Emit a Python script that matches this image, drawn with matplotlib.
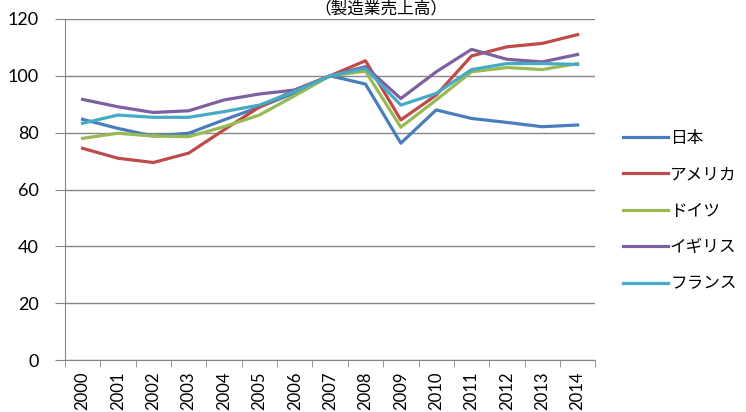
import matplotlib
matplotlib.use('Agg')
import matplotlib.pyplot as plt
import numpy as np

years = [str(y) for y in range(2000, 2015)]
countries = ['日本', 'アメリカ', 'ドイツ', 'イギリス', 'フランス']
japan = [84.7, 81.5, 78.8, 79.8, 84.5, 89.0, 94.0, 100.0, 97.1, 76.3, 88.0, 85.0, 83.6, 82.1, 82.7]
usa = [74.5, 71.0, 69.5, 72.8, 81.0, 89.0, 95.0, 100.0, 105.3, 84.5, 93.2, 107.0, 110.2, 111.4, 114.5]
germany = [78.0, 79.8, 78.8, 78.6, 82.1, 86.2, 93.0, 100.0, 101.6, 81.9, 91.5, 101.4, 102.9, 102.2, 104.3]
uk = [91.7, 89.1, 87.1, 87.7, 91.5, 93.6, 95.0, 100.0, 103.2, 92.0, 101.4, 109.3, 105.8, 104.9, 107.5]
france = [83.3, 86.2, 85.4, 85.4, 87.4, 89.7, 94.5, 100.0, 102.6, 89.7, 93.8, 102.2, 104.3, 104.3, 104.0]
colors = ['#4A7EBB', '#BE4B48', '#98B954', '#7D60A0', '#46AAC5']

plt.rcParams['font.family'] = ['Noto Sans CJK JP', 'DejaVu Sans']

fig = plt.figure(figsize=(7.46, 4.12), dpi=100)
ax = fig.add_axes([0.087, 0.126, 0.711, 0.828])

x = np.arange(len(years))
for vals, name, c in zip([japan, usa, germany, uk, france], countries, colors):
    ax.plot(x, vals, color=c, lw=2.3, label=name)

ax.set_xlim(-0.5, len(years) - 0.5)
ax.set_ylim(0, 120)
ax.set_yticks(range(0, 121, 20))
ax.set_xticks(x)
ax.set_xticklabels(years, rotation=90, fontsize=12, family='Lato')
for t in ax.get_yticklabels():
    t.set_family('Lato')
ax.set_xticks(np.arange(-0.5, len(years), 1), minor=True)
ax.tick_params(axis='x', which='major', length=0, pad=8)
ax.tick_params(axis='x', which='minor', length=5, color='#868686')
ax.tick_params(axis='y', length=7, color='#868686', labelsize=13, pad=12)
ax.grid(axis='y', color='#868686', lw=1)
ax.set_axisbelow(True)
for s in ['top', 'right']:
    ax.spines[s].set_visible(False)
for s in ['left', 'bottom']:
    ax.spines[s].set_color('#868686')

ax.legend(loc='center left', bbox_to_anchor=(1.053, 0.437), frameon=False,
          fontsize=12, handlelength=2.7, labelspacing=1.17, handletextpad=0.1,
          borderaxespad=0, borderpad=0)

# title sits in the narrow band above the plot
fig.text(0.51, 0.998, '（製造業売上高）', ha='center', va='top', fontsize=12)

fig.savefig('out.png', dpi=100)
